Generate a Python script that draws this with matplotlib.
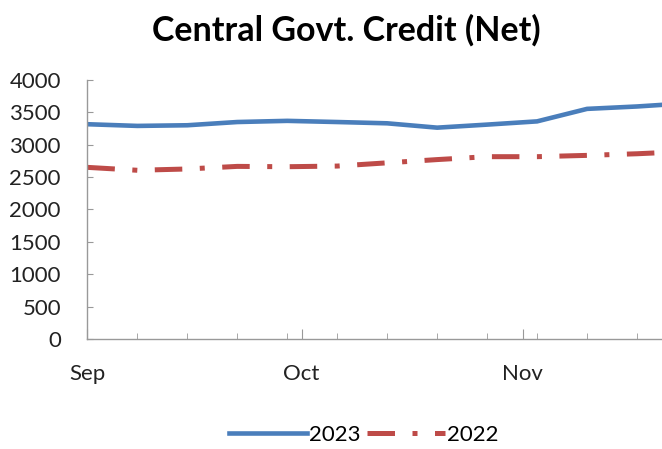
import matplotlib.pyplot as plt
import matplotlib.dates as mdates
import numpy as np
import datetime as dt

plt.rcParams['font.family'] = ['Lato', 'DejaVu Sans']

# weekly observations (Fridays)
weeks = [dt.date(2023, 9, 1) + dt.timedelta(days=7 * i) for i in range(13)]
credit_2023 = [3316, 3290, 3300, 3350, 3368, 3350, 3330, 3263, 3310, 3360, 3553, 3590, 3640]
credit_2022 = [2650, 2605, 2625, 2665, 2660, 2670, 2720, 2770, 2815, 2815, 2835, 2860, 2895]

y_ticks = [0, 500, 1000, 1500, 2000, 2500, 3000, 3500, 4000]
month_ticks = [dt.date(2023, 9, 1), dt.date(2023, 10, 1), dt.date(2023, 11, 1)]
month_labels = ['Sep', 'Oct', 'Nov']

fig = plt.figure(figsize=(6.62, 4.49), dpi=100)
ax = fig.add_axes([0.132, 0.245, 0.868, 0.577])

ax.plot(weeks, credit_2023, color='#4a7ebb', lw=3.3, label='2023')
ax.plot(weeks, credit_2022, color='#be4b48', lw=3.6, label='2022',
        dashes=(5.5, 3.5, 1, 3.5))

ax.set_yticks(y_ticks)
ax.set_ylim(0, 4000)
ax.set_xticks(month_ticks)
ax.set_xticklabels(month_labels)
ax.set_xticks(weeks, minor=True)
# chart is cut off on the right, just past mid-November
x0 = mdates.date2num(weeks[0])
ax.set_xlim(x0, x0 + 80.5)

for s in ['top', 'right']:
    ax.spines[s].set_visible(False)
for s in ['left', 'bottom']:
    ax.spines[s].set_color('#999999')
    ax.spines[s].set_linewidth(1)

ax.tick_params(axis='y', direction='in', length=4, color='#999999', labelsize=16, pad=19)
ax.tick_params(axis='x', which='major', direction='in', length=7, color='#999999',
               labelsize=16, pad=18)
ax.tick_params(axis='x', which='minor', direction='in', length=4, color='#999999')
for lbl in ax.get_yticklabels() + ax.get_xticklabels():
    lbl.set_color('#222222')

fig.suptitle('Central Govt. Credit (Net)', fontsize=24.5, fontweight='bold',
             x=0.523, y=0.968)

fig.legend(loc='lower center', bbox_to_anchor=(0.55, -0.035), ncol=2, frameon=False,
           fontsize=16, handlelength=3.5, columnspacing=0.3, handletextpad=0.1)

fig.savefig('out.png', dpi=100)
